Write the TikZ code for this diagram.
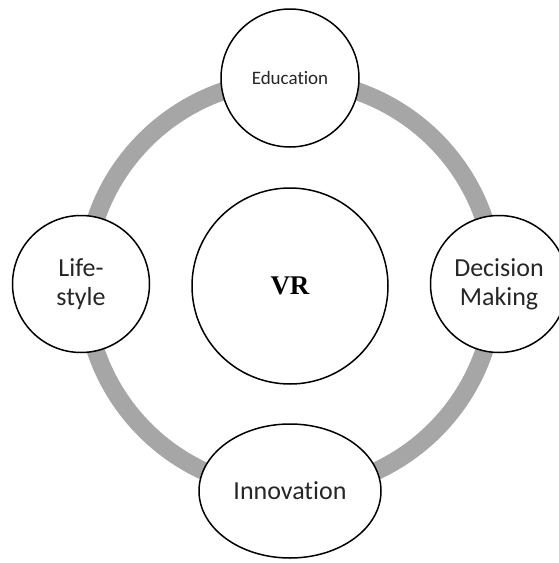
\documentclass[tikz,border=0pt]{standalone}
\usepackage{fontspec}
\newfontfamily\carlito[Ligatures=NoCommon]{Carlito}
\newfontfamily\timesf{Liberation Serif}
\usetikzlibrary{shapes.geometric}
\definecolor{ringgray}{HTML}{A6A6A6}
\begin{document}
\begin{tikzpicture}[x=1pt,y=-1pt,
  bubble/.style={circle,draw=black,line width=1.5pt,fill=white,inner sep=0pt,align=center,text=black!85,font=\carlito\fontsize{26}{29}\selectfont},
  ringline/.style={draw=ringgray,line width=18pt}]
\useasboundingbox (0,0) rectangle (558,563);
\coordinate (c) at (290,285);
\draw[ringline] (c) circle[radius=205];
\node[bubble,minimum size=196pt,text=black,font=\timesf\bfseries\fontsize{27}{30}\selectfont] (vr) at (290,286) {VR};
\node[bubble,minimum size=138pt,font=\carlito\fontsize{19}{22}\selectfont] (edu) at (290,78) {Education};
\node[bubble,minimum size=137pt] (life) at (81,284) {Life-\\style};
\node[bubble,minimum size=137pt] (dec) at (499,284) {Decision\\Making};
\node[bubble,ellipse,minimum width=182pt,minimum height=134pt] (inn) at (290,491) {Innovation};
\end{tikzpicture}
\end{document}
